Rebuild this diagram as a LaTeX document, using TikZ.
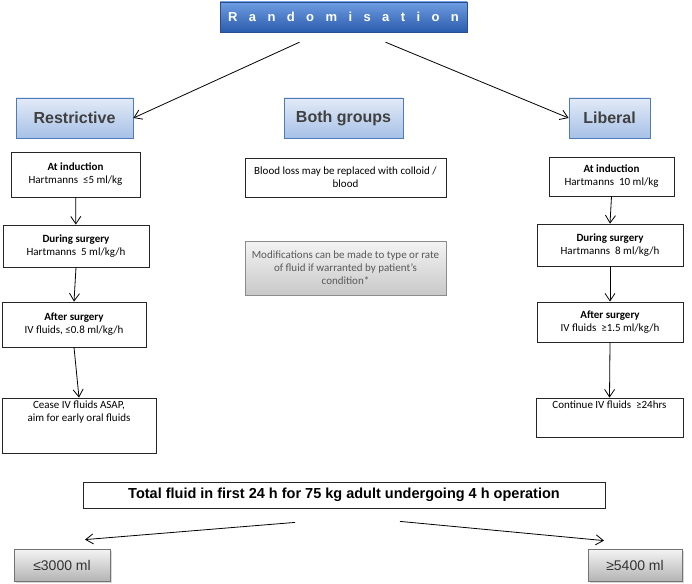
\documentclass[tikz,border=0pt]{standalone}
\usepackage{fontspec}
\setmainfont{Carlito}
\newfontfamily\arialfont{Liberation Sans}
\usetikzlibrary{calc, shadows, arrows.meta}
\definecolor{randtop}{HTML}{6F9DE2}
\definecolor{randbot}{HTML}{2B5CAD}
\definecolor{randline}{HTML}{2A4E8C}
\definecolor{hdrtop}{HTML}{E2EAF7}
\definecolor{hdrbot}{HTML}{A7C1E7}
\definecolor{hdrline}{HTML}{4F7BB8}
\definecolor{greytop}{HTML}{F4F4F4}
\definecolor{greybot}{HTML}{C8C8C8}

\begin{document}
\begin{tikzpicture}[
    x=1pt, y=-1pt,
    rand/.style={rectangle, draw=randline, top color=randtop, bottom color=randbot, text=white, minimum width=247, minimum height=30, font=\arialfont\bfseries\fontsize{13}{15}\selectfont, drop shadow={shadow xshift=1pt, shadow yshift=-1.5pt, opacity=.25}},
    group/.style={rectangle, draw=hdrline, line width=0.8pt, top color=hdrtop, bottom color=hdrbot, text=black!75, minimum height=40, font=\arialfont\bfseries\fontsize{16}{19}\selectfont, drop shadow={shadow xshift=1pt, shadow yshift=-1pt, opacity=.2}},
    stepbox/.style={rectangle, draw=black!85, line width=0.8pt, fill=white, inner sep=3pt, align=center, font=\fontsize{11}{13}\selectfont},
    notebox/.style={stepbox, draw=black!45, top color=greytop, bottom color=greybot, text=black!65},
    totalbox/.style={rectangle, draw=black!85, line width=0.8pt, fill=white, minimum width=522, minimum height=26, font=\arialfont\bfseries\fontsize{14.5}{16}\selectfont},
    result/.style={rectangle, draw=black!55, line width=0.8pt, top color=greytop, bottom color=greybot!90!black, text=black!80, minimum height=32, font=\arialfont\fontsize{14}{16}\selectfont, drop shadow={shadow xshift=1.5pt, shadow yshift=-1.5pt, opacity=.3}},
    arrow/.style={-{Straight Barb[length=7.5pt,width=10pt]}, line width=0.8pt, draw=black}
]
\useasboundingbox (0,0) rectangle (692,583);

% top
\node[rand] (rand) at (343.5,17) {\spaceskip=11.4pt plus 0pt minus 0pt R a n d o m i s a t i o n};
\node[group, minimum width=117] (restr) at (74.5,118) {Restrictive};
\node[group, minimum width=119] (both) at (343.5,118) {Both groups};
\node[group, minimum width=81] (lib) at (609.5,118) {Liberal};

\draw[arrow] ($(rand.south)+(-44,10)$) -- (restr.east);
\draw[arrow] ($(rand.south)+(42,10)$) -- (lib.west);

% restrictive arm
\node[stepbox, minimum width=129, minimum height=45] (indR) at (75.5,174.5) {\textbf{At induction}\\Hartmanns \ ≤5 ml/kg};
\node[stepbox, minimum width=146, minimum height=42] (durR) at (76,246) {\textbf{During surgery}\\Hartmanns \ 5 ml/kg/h};
\node[stepbox, minimum width=144, minimum height=45] (aftR) at (74,324.5) {\textbf{After surgery}\\IV fluids, ≤0.8 ml/kg/h};
\node[stepbox, minimum width=154] (ceaseR) at (79,425.5) {\parbox[t][49pt][t]{148pt}{\centering Cease IV fluids ASAP,\\ aim for early oral fluids}};

\draw[arrow] (indR) -- (durR);
\draw[arrow] (durR.south) -- (aftR.north);
\draw[arrow] (aftR.south) -- (ceaseR.north);

% both groups
\node[stepbox, minimum width=201, minimum height=39] (blood) at (345.5,177.5) {Blood loss may be replaced with colloid /\\blood};
\node[notebox, minimum width=201, minimum height=54] (modif) at (345.5,268) {Modifications can be made to type or rate\\of fluid if warranted by patient’s\\condition*};

% liberal arm
\node[stepbox, minimum width=125, minimum height=39] (indL) at (611.5,176.5) {\textbf{At induction}\\Hartmanns \ 10 ml/kg};
\node[stepbox, minimum width=146, minimum height=42] (durL) at (610,245) {\textbf{During surgery}\\Hartmanns \ 8 ml/kg/h};
\node[stepbox, minimum width=146, minimum height=40] (aftL) at (610,322) {\textbf{After surgery}\\IV fluids \ ≥1.5 ml/kg/h};
\node[stepbox, minimum width=147] (contL) at (609.5,417.5) {\parbox[t][33pt][t]{141pt}{\centering Continue IV fluids \ ≥24hrs}};

\draw[arrow] (indL.south) -- (durL.north);
\draw[arrow] (durL.south) -- (aftL.north);
\draw[arrow] (aftL.south) -- (contL.north);

% totals
\node[totalbox] (total) at (344,495) {Total fluid in first 24 h for 75 kg adult undergoing 4 h operation};
\node[result, minimum width=96] (less) at (62,565) {≤3000 ml};
\node[result, minimum width=94] (more) at (635,565) {≥5400 ml};

\draw[arrow] ($(total.south)+(-49,14)$) -- ($(less.north)+(23,-9)$);
\draw[arrow] ($(total.south)+(56,13)$) -- ($(more.north)+(-31,-8)$);
\end{tikzpicture}
\end{document}
